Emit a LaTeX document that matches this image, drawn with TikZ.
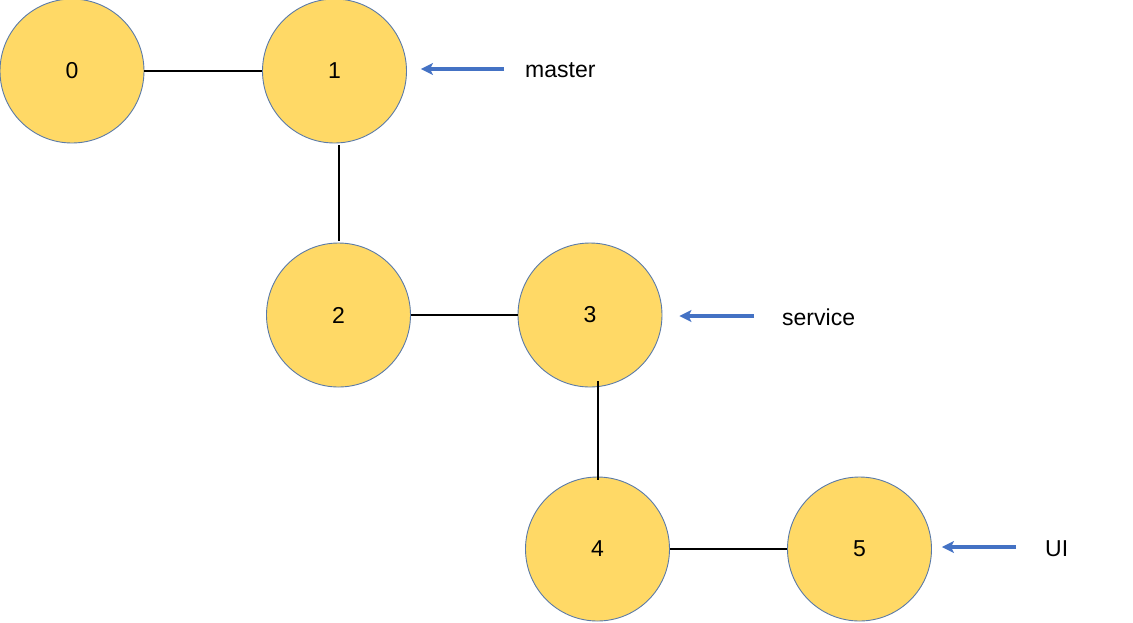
\documentclass[tikz,border=0pt]{standalone}
\usepackage{fontspec}
\setmainfont{Liberation Sans}
\usetikzlibrary{arrows.meta}
\definecolor{fillY}{HTML}{FFD966}
\definecolor{rimB}{HTML}{5A7AA8}
\definecolor{arrB}{HTML}{4472C4}
\begin{document}
\begin{tikzpicture}[x=1pt,y=-1pt,
  vtx/.style={circle,draw=rimB,line width=0.9pt,fill=fillY,minimum size=144pt,inner sep=0pt,font=\fontsize{23}{27}\selectfont},
  edge/.style={line width=2pt,black},
  pointer/.style={line width=3.2pt,arrB,-{Stealth[length=12pt,width=12pt,inset=3pt]}},
  lbl/.style={font=\fontsize{23}{27}\selectfont,anchor=west,inner sep=0pt}]
\useasboundingbox (0,0) rectangle (1133,622);
\node[vtx] (n0) at (72,71) {0};
\node[vtx] (n1) at (334.5,71) {1};
\node[vtx] (n2) at (338.5,315) {2};
\node[vtx] (n3) at (590,315) {3};
\node[vtx] (n4) at (597.5,549) {4};
\node[vtx] (n5) at (859.5,549) {5};
\draw[edge] (n0.east) -- (n1.west);
\draw[edge] ([yshift=-2pt]n2.north |- n1.south) -- ([yshift=2pt]n2.north);
\draw[edge] (n2.east) -- (n3.west);
\draw[edge] ([yshift=6pt]n4.north |- n3.south) -- ([yshift=-3pt]n4.north);
\draw[edge] (n4.east) -- (n5.west);
\node[lbl] (lm) at (525,70) {master};
\node[lbl] (ls) at (782,317) {service};
\node[lbl] (lu) at (1045,549) {UI};
\coordinate (am) at (504,69);
\coordinate (as) at (754,316);
\coordinate (au) at (1016,547);
\draw[pointer] (am) -- ([xshift=14pt]n1.east |- am);
\draw[pointer] (as) -- ([xshift=17pt]n3.east |- as);
\draw[pointer] (au) -- ([xshift=10pt]n5.east |- au);
\end{tikzpicture}
\end{document}
